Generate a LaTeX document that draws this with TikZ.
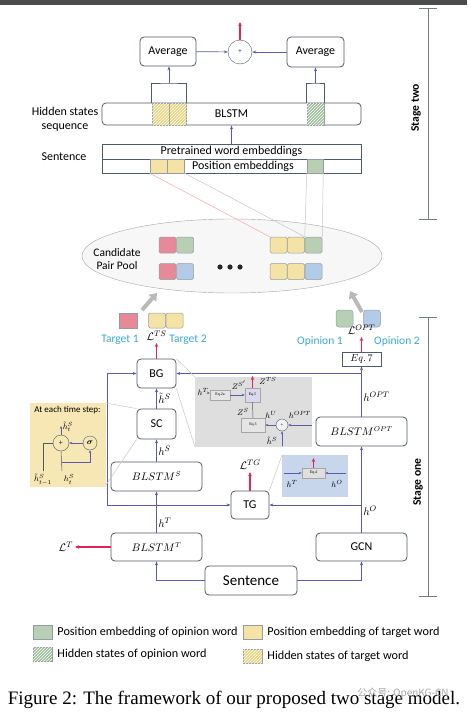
\documentclass[tikz,border=0pt]{standalone}
\usepackage{amsmath}
\usepackage{fontspec}
\setsansfont{Carlito}
\setmainfont{Liberation Serif}
\newfontfamily\cjkfont{Noto Sans CJK SC}
\usetikzlibrary{arrows.meta,positioning,calc,patterns,shapes.geometric}
\definecolor{boxline}{HTML}{4F5B66}
\definecolor{arrowblue}{HTML}{5A5AB0}
\definecolor{lossred}{HTML}{E3245A}
\definecolor{cellred}{HTML}{E8899A}
\definecolor{cellgreen}{HTML}{B7D0B4}
\definecolor{cellblue}{HTML}{B3CBE6}
\definecolor{cellyellow}{HTML}{F4E3A4}
\definecolor{hidyellow}{HTML}{EBD47E}
\definecolor{hidgreen}{HTML}{9DBF98}
\definecolor{labelcyan}{HTML}{3BA9D6}
\definecolor{stepyellow}{HTML}{F6E7B4}
\definecolor{zoomgray}{HTML}{DEDEDE}
\definecolor{zoomblue}{HTML}{C8D6EB}
\definecolor{eqlav}{HTML}{DCD8EE}
\tikzset{
  blk/.style    = {draw=boxline,line width=0.8pt,rounded corners=4pt,inner sep=1pt,
                   minimum width=91pt,minimum height=29pt},
  smallblk/.style = {blk,minimum width=39pt},
  mathblk/.style  = {blk,font=\fontsize{10.5}{12}\selectfont},
  bar/.style    = {draw=boxline,line width=0.6pt,inner sep=0pt,minimum width=259pt},
  cell/.style   = {draw=boxline!60,line width=0.5pt,rounded corners=1.5pt,inner sep=0pt,
                   minimum width=17pt,minimum height=16pt},
  hatchy/.style = {fill=hidyellow,postaction={pattern=north east lines,pattern color=white}},
  hatchg/.style = {fill=hidgreen,postaction={pattern=north east lines,pattern color=white}},
  sig/.style    = {-{Stealth[length=4pt,width=3pt]},draw=arrowblue,line width=0.7pt},
  thinsig/.style= {-{Stealth[length=3pt,width=2.4pt]},draw=arrowblue,line width=0.5pt},
  loss/.style   = {-{Stealth[length=4pt,width=3.5pt]},draw=lossred,line width=1.2pt},
  fat/.style    = {-{Triangle[length=7pt,width=10pt]},line width=4pt,draw=gray!55},
  zoomln/.style = {draw=gray!45,line width=0.5pt},
  lbl/.style    = {font=\fontsize{11}{13}\selectfont,inner sep=1.5pt},
  tinylbl/.style= {font=\fontsize{8}{9}\selectfont,inner sep=0.5pt},
  eqbox/.style  = {draw=gray!70,line width=0.4pt,inner sep=0pt,font=\fontsize{4}{5}\selectfont},
  cyanlbl/.style= {text=labelcyan,font=\fontsize{11.5}{13}\selectfont\sffamily},
  legend/.style = {font=\fontsize{12.2}{14}\selectfont\sffamily,inner sep=1pt},
}

\begin{document}
\begin{tikzpicture}[x=1pt,y=-1pt,font=\fontsize{12}{14}\selectfont\sffamily]
  \useasboundingbox (0,0) rectangle (467,717);
  \fill[black!70] (0,0) rectangle (467,5);

  % stage two
  \node[blk,minimum width=56pt] (avgL) at (168,51.5) {Average};
  \node[draw=boxline,circle,minimum size=24pt,inner sep=0pt,font=\scriptsize] (sum) at (240,52) {+};
  \node[blk,minimum width=57pt,minimum height=30pt] (avgR) at (315.5,52) {Average};
  \draw[sig] (avgL) -- (sum);
  \draw[sig] (avgR) -- (sum);
  \coordinate (out) at (240,22);
  \draw[loss] (sum.north) -- (out);

  \node[blk,minimum width=259pt,minimum height=22pt] (hid) at (231.5,114) {BLSTM};
  \node[cell,hatchy,minimum height=22pt,rounded corners=0pt] (hy1) at (160.5,114) {};
  \node[cell,hatchy,minimum height=22pt,rounded corners=0pt,right=0pt of hy1] (hy2) {};
  \node[cell,hatchg,minimum height=22pt,rounded corners=0pt] (hg) at (315.5,114) {};
  \coordinate (brL) at (169,83);
  \coordinate (brR) at (315.5,83);
  \draw[boxline,line width=0.6pt] (hy1.north west) |- (brL) -| (hy2.north east);
  \draw[boxline,line width=0.6pt] (hg.north west) |- (brR) -| (hg.north east);
  \draw[sig] (brL) -- (avgL.south -| brL);
  \draw[sig] (brR) -- (avgR.south);

  \node[bar,minimum height=15pt] (pre) at (231.5,151.5) {Pretrained word embeddings};
  \node[bar,minimum height=14pt] (pos) at (231.5,166) {};
  \node[cell,fill=cellyellow,minimum height=14pt,rounded corners=0pt] (py1) at (158.5,166) {};
  \node[cell,fill=cellyellow,minimum height=14pt,rounded corners=0pt,right=0pt of py1] (py2) {};
  \node[cell,fill=cellgreen,minimum width=16pt,minimum height=14pt,rounded corners=0pt] (pg) at (315,166) {};
  \node[inner sep=0pt] (postxt) at (243,166) {Position embeddings};
  \draw[sig] (pre.north) -- (hid.south);
  \node[align=center] (hidlbl) at (65,119) {Hidden states\\sequence};
  \node (sentlbl) at (64,157) {Sentence};

  \draw[boxline!80,line width=0.7pt] (428,8) -- (428,219);
  \draw[boxline!80,line width=0.7pt] (419,8) -- (437,8) (419,219) -- (437,219);
  \node[rotate=90,font=\fontsize{11.6}{13}\selectfont\sffamily\bfseries] (stwo) at (416,108) {Stage two};

  % candidate pair pool
  \node[draw=gray!70,fill=gray!6,ellipse,minimum width=300pt,minimum height=74pt] (pool) at (232,256) {};
  \node[cell,fill=cellred] (q1a) at (167.5,245) {};
  \node[cell,fill=cellgreen,right=0pt of q1a] (q1b) {};
  \node[cell,fill=cellred] (q2a) at (167.5,271.5) {};
  \node[cell,fill=cellblue,right=0pt of q2a] (q2b) {};
  \node[cell,fill=cellyellow] (r1a) at (278.5,245) {};
  \node[cell,fill=cellyellow,right=0pt of r1a] (r1b) {};
  \node[cell,fill=cellgreen,right=0pt of r1b] (r1c) {};
  \node[cell,fill=cellyellow] (r2a) at (278.5,271.5) {};
  \node[cell,fill=cellyellow,right=0pt of r2a] (r2b) {};
  \node[cell,fill=cellblue,right=0pt of r2b] (r2c) {};
  \draw[zoomln,draw=red!35] (py1.south west) -- (r1a.north west);
  \draw[zoomln] (py2.south east) -- (r1b.north east);
  \draw[zoomln] (pg.south west) -- (r1c.north west);
  \draw[zoomln] (pg.south east) -- (r1c.north east);
  \node[align=center,font=\fontsize{11.5}{13}\selectfont\sffamily] (pooltxt) at (117,259) {Candidate\\Pair Pool};
  \foreach \x in {220,230,240}
    \fill[black!85] (\x,267) circle (2.6pt);

  \node[cell,fill=cellred,minimum width=18pt,minimum height=15pt,rounded corners=0pt] (t1) at (128,320.5) {};
  \node[cell,fill=cellyellow,minimum height=15pt] (t2a) at (157,320.5) {};
  \node[cell,fill=cellyellow,minimum height=15pt,right=0pt of t2a] (t2b) {};
  \node[cell,fill=cellgreen,minimum height=17pt,rounded corners=3pt] (o1) at (344.5,318.5) {};
  \node[cell,fill=cellblue,minimum height=17pt,rounded corners=3pt,right=10pt of o1] (o2) {};
  \coordinate (upL) at (142,310);
  \coordinate (upR) at (362,312);
  \draw[fat] (upL) -- (157,293);
  \draw[fat] (upR) -- (350,291);

  \node[cyanlbl] (tgt1) at (120,340) {Target 1};
  \node[cyanlbl] (tgt2) at (188,340) {Target 2};
  \node[cyanlbl] (opn1) at (320,341) {Opinion 1};
  \node[cyanlbl] (opn2) at (397,341) {Opinion 2};

  % stage one
  \fill[stepyellow] (30,403) rectangle (106,487);
  \fill[zoomgray] (195,377) rectangle (312,447);
  \fill[zoomblue] (282,455) rectangle (348,497);

  \node[smallblk] (bg) at (156.5,373.5) {BG};
  \node[smallblk,minimum height=30pt] (sc) at (156.5,424) {SC};
  \node[mathblk] (bls) at (156.5,476.5) {$BLSTM^S$};
  \node[mathblk,minimum height=28pt] (blt) at (156.5,547) {$BLSTM^T$};
  \node[smallblk,minimum width=38pt,minimum height=28pt] (tg) at (250,505) {TG};
  \node[mathblk] (blo) at (361.5,431.5) {$BLSTM^{OPT}$};
  \node[blk,minimum height=28pt] (gcn) at (361.5,547) {GCN};
  \node[blk,minimum width=92pt,font=\fontsize{15}{17}\selectfont\sffamily] (sent) at (251,580.5) {Sentence};
  \node[draw=boxline,line width=0.6pt,minimum width=39pt,minimum height=14pt,inner sep=0pt,
        font=\fontsize{10}{12}\selectfont] (eq7) at (361.5,359) {$Eq.\,7$};

  \draw[sig] (sent.west) -| (blt.south);
  \draw[sig] (sent.east) -| (gcn.south);
  \draw[sig] (blt.north) -- node[right,lbl,pos=0.25]{$h^T$} (bls.south);
  \coordinate (hTs) at (156.5,505);
  \draw[sig] (hTs) -- (tg.west);
  \draw[sig] (hTs) -- (107,505) |- (bg.west);
  \draw[sig] (bls.north) -- node[right,lbl]{$h^S$} (sc.south);
  \draw[sig] (sc.north) -- node[right,lbl]{$\tilde{h}^S$} (bg.south);
  \draw[sig] (gcn.north) -- node[right,lbl,pos=0.25]{$h^O$} (blo.south);
  \coordinate (hOs) at (361.5,505);
  \draw[sig] (hOs) -- (tg.east);
  \draw[sig] (blo.north) -- node[right,lbl,pos=0.4]{$h^{OPT}$} (eq7.south);
  \coordinate (hPs) at (361.5,373.5);
  \draw[sig] (hPs) -- (bg.east);

  \coordinate (lTS) at (156.5,343);
  \coordinate (lOPT) at (361.5,337);
  \coordinate (lTG) at (250,472);
  \coordinate (lT) at (75,547);
  \draw[loss] (bg.north) -- (lTS) node[above,lbl]{$\mathcal{L}^{TS}$};
  \draw[loss] (eq7.north) -- (lOPT) node[above,lbl]{$\mathcal{L}^{OPT}$};
  \draw[loss] (tg.north) -- (lTG) node[above,lbl]{$\mathcal{L}^{TG}$};
  \draw[loss] (blt.west) -- (lT) node[left,lbl]{$\mathcal{L}^{T}$};

  \draw[boxline!80,line width=0.7pt] (428,317) -- (428,596);
  \draw[boxline!80,line width=0.7pt] (419,317) -- (437,317) (419,596) -- (437,596);
  \node[rotate=90,font=\fontsize{11.6}{13}\selectfont\sffamily\bfseries] (sone) at (418,482) {Stage one};

  % zoom: one time step of SC
  \node[font=\fontsize{9}{10}\selectfont\sffamily,inner sep=0pt] (steptxt) at (67.5,410) {At each time step:};
  \node[draw=boxline,circle,minimum size=16pt,inner sep=0pt,font=\fontsize{8}{9}\selectfont] (plusc) at (61,443) {+};
  \node[draw=boxline,circle,minimum size=14pt,inner sep=0pt,font=\fontsize{8}{9}\selectfont] (sigc) at (90,443) {$\boldsymbol{\sigma}$};
  \coordinate (hprev) at (43,471);
  \coordinate (hcur) at (62,471);
  \coordinate (hnext) at (61,426);
  \draw[thinsig] (sigc) -- (plusc);
  \draw[thinsig] (plusc.north) -- (hnext) node[right=1pt,tinylbl,yshift=-1pt]{$\tilde{h}^S_t$};
  \draw[boxline,line width=0.5pt] (hprev) |- (plusc.west);
  \draw[boxline,line width=0.5pt] (hcur) -- (plusc.south);
  \draw[thinsig] (62,462) -| (sigc.south);
  \node[tinylbl] (hprevlbl) at (43,479.5) {$\tilde{h}^S_{t-1}$};
  \node[tinylbl] (hcurlbl) at (69,479.5) {$h^S_t$};
  \draw[zoomln] (106,403) -- (sc.north west);
  \draw[zoomln] (106,485) -- (sc.south west);

  % zoom: inside BG
  \node[eqbox,fill=gray!20,minimum width=20pt,minimum height=10pt] (eqa) at (220,395) {Eq.2a};
  \node[eqbox,fill=eqlav,minimum width=15pt,minimum height=14pt] (eqb) at (252.5,395) {Eq.5};
  \node[eqbox,fill=gray!20,minimum width=24pt,minimum height=14pt] (eqc) at (253,425) {Eq.3};
  \node[draw=boxline,circle,minimum size=12pt,inner sep=0pt,fill=gray!10,font=\fontsize{5}{6}\selectfont] (uc) at (282,425) {+};
  \node[tinylbl] (bhT) at (203,392) {$h^T$};
  \coordinate (bhOPT) at (312,425);
  \coordinate (bhS) at (282,446);
  \coordinate (bZ) at (252.5,376);
  \draw[thinsig] (bhT) -- (eqa);
  \draw[thinsig] (eqa) -- (eqb);
  \draw[boxline,line width=0.5pt] (eqc.north) -- (eqb.south);
  \draw[thinsig] (bhOPT) -- (uc);
  \draw[thinsig] (uc) -- (eqc);
  \draw[thinsig] (bhS) -- (uc);
  \draw[loss,line width=0.8pt] (eqb.north) -- (bZ);
  \node[tinylbl] (zsp) at (239,385) {$Z^{S'}$};
  \node[tinylbl] (zts) at (268,381) {$Z^{TS}$};
  \node[tinylbl] (zs) at (243,412) {$Z^{S}$};
  \node[tinylbl] (huu) at (271,415) {$h^{U}$};
  \node[tinylbl] (hop) at (300,415) {$h^{OPT}$};
  \node[tinylbl] (hss) at (272,441) {$\tilde{h}^{S}$};
  \draw[zoomln] (bg.north east) -- (195,377);
  \draw[zoomln] (bg.south east) -- (195,447);

  % zoom: inside TG
  \node[eqbox,fill=gray!25,minimum width=23pt,minimum height=10pt] (eqd) at (313.5,473) {Eq.4};
  \coordinate (ghT) at (284,473);
  \coordinate (ghO) at (346,473);
  \coordinate (gZ) at (313.5,458);
  \draw[thinsig] (ghT) -- (eqd);
  \draw[thinsig] (ghO) -- (eqd);
  \draw[loss,line width=0.8pt] (eqd.north) -- (gZ);
  \node[tinylbl] (ghTl) at (292,484) {$h^T$};
  \node[tinylbl] (ghOl) at (337,484) {$h^O$};
  \draw[zoomln] (tg.north east) -- (282,455);

  % legend
  \node[cell,fill=cellgreen,minimum width=19pt,minimum height=14pt,rounded corners=0pt] (lg1) at (42.5,632) {};
  \node[legend,right=4pt of lg1] (lg1t) {Position embedding of opinion word};
  \node[cell,fill=cellyellow,minimum width=19pt,minimum height=14pt,rounded corners=0pt] (ly1) at (252.5,632) {};
  \node[legend,right=4pt of ly1] (ly1t) {Position embedding of target word};
  \node[cell,hatchg,minimum width=19pt,minimum height=14pt,rounded corners=0pt] (lg2) at (42.5,654) {};
  \node[legend,right=4pt of lg2] (lg2t) {Hidden states of opinion word};
  \node[cell,hatchy,minimum width=19pt,minimum height=14pt,rounded corners=0pt] (ly2) at (252.5,656) {};
  \node[legend,right=4pt of ly2] (ly2t) {Hidden states of target word};

  % caption
  \node[font=\fontsize{19}{22}\selectfont\rmfamily] (caption) at (234,700) {Figure 2: The framework of our proposed two stage model.};
  \node[text=gray!70,font=\cjkfont\fontsize{10}{11}\selectfont] (wmark) at (403,693) {公众号: OpenKG-CN};
\end{tikzpicture}
\end{document}
